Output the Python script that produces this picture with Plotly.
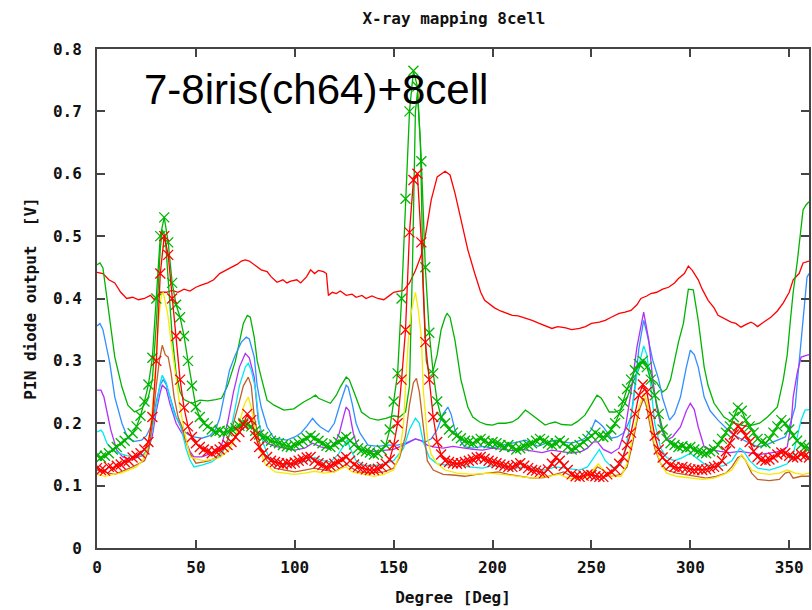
import plotly.graph_objects as go

# ---- thin-line scans: (degree, PIN voltage) pairs ----
red_deg = [0, 3, 6, 9, 12, 15, 18, 21, 24, 27, 29, 32, 35, 38, 41, 44, 47, 50, 53, 56, 59, 62, 65, 68, 71, 73, 75, 77, 79, 81, 83, 86, 88, 91, 94, 96, 98, 101, 103, 106, 108, 110, 112, 114.5, 116, 117, 119, 121, 123, 126, 129, 131, 134, 136, 139, 142, 145, 148, 150, 153, 155, 158, 161, 164, 166, 169, 172, 176, 178.5, 181, 184, 187.5, 191, 194, 196, 199, 201, 204, 207.5, 210, 213, 216.6, 220, 223.6, 227, 230, 233, 237, 240, 244, 247, 250, 254, 257, 260, 264, 267, 270, 273, 275, 278, 280, 283, 286, 289, 292, 294, 297, 299, 301, 304, 306, 309, 312, 314, 317, 320.6, 323, 325.6, 328, 330.6, 332, 334, 337, 340.7, 344, 347, 350, 352, 355, 357, 360]
red_val = [0.442, 0.44, 0.43, 0.425, 0.41, 0.40, 0.402, 0.398, 0.40, 0.405, 0.398, 0.41, 0.41, 0.413, 0.41, 0.415, 0.412, 0.418, 0.422, 0.425, 0.43, 0.44, 0.445, 0.45, 0.455, 0.46, 0.462, 0.46, 0.455, 0.45, 0.446, 0.443, 0.435, 0.426, 0.43, 0.425, 0.428, 0.43, 0.425, 0.435, 0.446, 0.44, 0.445, 0.443, 0.44, 0.405, 0.41, 0.408, 0.412, 0.405, 0.407, 0.402, 0.405, 0.40, 0.404, 0.40, 0.398, 0.405, 0.41, 0.412, 0.413, 0.425, 0.445, 0.47, 0.50, 0.558, 0.595, 0.604, 0.598, 0.569, 0.526, 0.478, 0.44, 0.41, 0.397, 0.39, 0.385, 0.38, 0.376, 0.373, 0.372, 0.369, 0.365, 0.36, 0.356, 0.352, 0.355, 0.353, 0.35, 0.352, 0.355, 0.36, 0.362, 0.365, 0.37, 0.376, 0.378, 0.381, 0.39, 0.40, 0.404, 0.408, 0.41, 0.415, 0.418, 0.425, 0.432, 0.44, 0.452, 0.445, 0.43, 0.415, 0.397, 0.385, 0.373, 0.368, 0.362, 0.36, 0.354, 0.358, 0.362, 0.36, 0.355, 0.362, 0.37, 0.38, 0.393, 0.41, 0.43, 0.44, 0.457, 0.46]

green_deg = [0, 1.5, 3, 5.5, 9, 12.6, 15.6, 19, 22.6, 25.6, 28, 30, 32, 33, 34.5, 36, 38, 40, 42, 44, 48, 52, 56, 60, 63, 66, 70, 72, 74, 76, 77.5, 79.5, 81, 83, 86, 89.5, 94.5, 99.5, 104.5, 108, 110.5, 112, 114.6, 118, 121, 123, 126, 127.5, 129.6, 133.7, 138, 142, 146, 150, 153, 156, 158, 159.5, 161, 162, 163.5, 165, 166.5, 168, 170, 172, 174, 176, 177, 178.5, 181, 184, 187.5, 190, 193.5, 197, 200, 203, 206.5, 210, 213, 216.6, 218, 220, 223, 226.6, 229, 231.7, 235, 240, 243, 246.7, 250, 252.8, 255, 256.8, 259, 262, 265, 267, 270, 273, 275, 277, 279, 281, 283, 286, 288, 290, 292, 294, 296.5, 299, 301.5, 304, 307, 309, 312, 317, 321, 325.6, 329, 332, 335, 339, 344, 347, 349, 350.6, 352, 354, 356, 357, 358.5, 360]
green_val = [0.454, 0.457, 0.449, 0.386, 0.306, 0.258, 0.229, 0.218, 0.224, 0.237, 0.27, 0.36, 0.48, 0.51, 0.50, 0.43, 0.34, 0.28, 0.25, 0.238, 0.232, 0.237, 0.236, 0.238, 0.24, 0.26, 0.30, 0.33, 0.36, 0.373, 0.37, 0.338, 0.30, 0.274, 0.237, 0.229, 0.221, 0.223, 0.234, 0.24, 0.245, 0.24, 0.237, 0.232, 0.245, 0.258, 0.274, 0.27, 0.253, 0.218, 0.208, 0.205, 0.208, 0.212, 0.21, 0.218, 0.26, 0.45, 0.70, 0.73, 0.65, 0.42, 0.30, 0.28, 0.285, 0.31, 0.35, 0.37, 0.376, 0.37, 0.333, 0.27, 0.226, 0.21, 0.202, 0.198, 0.197, 0.2, 0.2, 0.202, 0.208, 0.221, 0.218, 0.213, 0.205, 0.197, 0.2, 0.202, 0.198, 0.197, 0.203, 0.213, 0.23, 0.245, 0.24, 0.229, 0.218, 0.218, 0.222, 0.232, 0.258, 0.28, 0.295, 0.30, 0.29, 0.27, 0.265, 0.25, 0.255, 0.27, 0.30, 0.33, 0.36, 0.415, 0.414, 0.365, 0.29, 0.26, 0.232, 0.21, 0.202, 0.197, 0.195, 0.197, 0.2, 0.21, 0.226, 0.27, 0.31, 0.365, 0.41, 0.457, 0.51, 0.542, 0.55, 0.555]

blue_deg = [0, 1.5, 3, 6.5, 9, 12.6, 15.6, 19, 22.6, 25, 28, 30, 32, 33.5, 35, 37, 40, 43, 46, 49, 53, 57, 60, 62, 65, 67, 70, 73, 75.5, 77, 79.5, 81, 83, 86, 89.5, 93, 96, 100, 103, 106, 109, 111, 113, 117, 120, 123, 126, 127, 129, 131, 133, 137, 142, 147, 152, 156, 159, 161, 163, 166, 169, 172, 175, 177.4, 179, 181, 184, 186, 190, 195, 200, 205, 210, 213, 216.6, 220, 223, 227, 231.7, 235, 240, 244, 246.7, 250, 252, 254, 256, 258, 260, 263, 266, 268, 270, 272, 274, 276.4, 278, 281, 284, 286, 289.5, 292, 295, 298, 300, 302, 304, 307, 310, 314, 317, 320.7, 325, 330, 334, 338, 342, 346, 348, 350.6, 353, 354.5, 356, 357.5, 359, 360]
blue_val = [0.356, 0.36, 0.35, 0.296, 0.242, 0.20, 0.176, 0.171, 0.173, 0.18, 0.2, 0.235, 0.262, 0.27, 0.262, 0.24, 0.21, 0.19, 0.182, 0.178, 0.176, 0.18, 0.19, 0.208, 0.258, 0.285, 0.31, 0.33, 0.338, 0.335, 0.306, 0.26, 0.226, 0.194, 0.176, 0.174, 0.173, 0.178, 0.184, 0.195, 0.208, 0.2, 0.194, 0.186, 0.2, 0.232, 0.261, 0.258, 0.232, 0.2, 0.184, 0.165, 0.163, 0.165, 0.165, 0.168, 0.172, 0.175, 0.173, 0.17, 0.175, 0.19, 0.215, 0.226, 0.215, 0.189, 0.17, 0.162, 0.16, 0.163, 0.16, 0.165, 0.168, 0.17, 0.173, 0.168, 0.163, 0.168, 0.173, 0.17, 0.168, 0.172, 0.176, 0.19, 0.205, 0.2, 0.194, 0.185, 0.176, 0.178, 0.184, 0.195, 0.21, 0.26, 0.32, 0.365, 0.345, 0.301, 0.27, 0.24, 0.205, 0.215, 0.242, 0.29, 0.317, 0.31, 0.29, 0.242, 0.22, 0.205, 0.195, 0.184, 0.176, 0.168, 0.162, 0.165, 0.17, 0.175, 0.178, 0.2, 0.226, 0.28, 0.333, 0.386, 0.434, 0.44]

purple_deg = [0, 2, 3.5, 7, 10, 13, 16, 19, 23, 26, 28, 30, 32, 33, 35, 37, 40, 44, 47, 49, 53, 58, 63, 66, 69, 72, 75, 77, 79.5, 81.5, 84, 86, 90, 95, 100, 105, 109, 113, 117, 120, 122.5, 125, 126, 127.5, 129.6, 132, 135, 140, 145, 150, 155, 159, 161, 164, 167, 170, 175, 180, 185, 190, 195, 200, 205, 210, 215, 220, 225, 230, 235, 240, 245, 248, 251, 253, 256, 260, 264, 267, 270, 273, 276.4, 279, 281, 283, 285.5, 288, 291, 295, 298, 300, 302, 304, 307, 310, 315, 320, 325, 330, 335, 340, 345, 349, 351, 352, 354, 356, 358, 360]
purple_val = [0.253, 0.253, 0.242, 0.189, 0.157, 0.146, 0.143, 0.144, 0.148, 0.158, 0.18, 0.22, 0.25, 0.261, 0.255, 0.23, 0.2, 0.178, 0.155, 0.146, 0.146, 0.152, 0.165, 0.2, 0.25, 0.29, 0.312, 0.305, 0.274, 0.205, 0.175, 0.168, 0.163, 0.16, 0.157, 0.16, 0.168, 0.162, 0.16, 0.165, 0.184, 0.215, 0.226, 0.22, 0.184, 0.16, 0.157, 0.155, 0.157, 0.158, 0.165, 0.172, 0.175, 0.172, 0.165, 0.162, 0.16, 0.163, 0.16, 0.158, 0.157, 0.16, 0.158, 0.156, 0.158, 0.155, 0.153, 0.157, 0.155, 0.152, 0.155, 0.16, 0.17, 0.17, 0.158, 0.152, 0.16, 0.19, 0.25, 0.322, 0.378, 0.333, 0.27, 0.226, 0.19, 0.173, 0.178, 0.194, 0.22, 0.232, 0.222, 0.194, 0.162, 0.158, 0.155, 0.153, 0.155, 0.152, 0.15, 0.152, 0.155, 0.162, 0.2, 0.242, 0.28, 0.306, 0.308, 0.31]

cyan_deg = [0, 2, 3, 5, 8, 11, 15, 19, 23, 26, 28, 30, 32, 33, 35, 37, 39, 42, 45, 47, 49, 53, 58, 63, 66, 69, 72, 75, 76.5, 78, 80, 82, 84, 87, 91, 96, 101, 106, 110, 114, 118, 122, 125, 126.5, 128, 131, 135, 140, 145, 150, 155, 158, 161, 163, 165, 168, 172, 177, 182, 188, 195, 200, 205, 210, 215, 220, 226, 232, 238, 244, 248, 252, 254, 257, 261, 265, 268, 271, 273, 276.4, 278, 280, 282, 285, 288, 292, 296, 300, 303, 307, 312, 317, 321, 325, 327, 330, 334, 340, 345, 349, 352, 354, 356, 358, 360]
cyan_val = [0.186, 0.189, 0.185, 0.168, 0.157, 0.152, 0.148, 0.146, 0.148, 0.16, 0.19, 0.23, 0.265, 0.277, 0.265, 0.24, 0.215, 0.2, 0.16, 0.141, 0.13, 0.133, 0.138, 0.15, 0.17, 0.21, 0.26, 0.29, 0.296, 0.285, 0.258, 0.2, 0.168, 0.145, 0.136, 0.133, 0.135, 0.14, 0.145, 0.14, 0.138, 0.15, 0.165, 0.173, 0.16, 0.14, 0.133, 0.132, 0.135, 0.14, 0.16, 0.19, 0.208, 0.2, 0.17, 0.145, 0.135, 0.133, 0.135, 0.13, 0.128, 0.132, 0.13, 0.127, 0.13, 0.128, 0.125, 0.13, 0.127, 0.125, 0.13, 0.15, 0.158, 0.14, 0.128, 0.135, 0.17, 0.23, 0.28, 0.324, 0.31, 0.26, 0.2, 0.16, 0.145, 0.14, 0.145, 0.152, 0.145, 0.135, 0.13, 0.132, 0.14, 0.16, 0.155, 0.14, 0.128, 0.125, 0.13, 0.135, 0.15, 0.18, 0.205, 0.221, 0.222]

brown_deg = [0, 3, 6, 9, 12, 15, 18, 21, 24, 26, 28, 30, 31.5, 33, 34.5, 36, 37.5, 39, 41, 43, 45, 47, 50, 54, 57, 60, 63, 66, 69, 72, 74, 76.5, 78, 79.5, 81, 83, 86, 90, 95, 100, 105, 110, 115, 120, 124, 126, 128, 132, 138, 145, 150, 153, 156, 158, 160, 161.5, 163, 165, 167, 170, 175, 180, 186, 192, 198, 203, 208, 214, 220, 226, 232, 236, 240, 245, 250, 253, 256, 260, 265, 268, 271, 274, 276.4, 278, 280, 282, 285, 288, 293, 298, 303, 308, 313, 318, 321, 324, 326, 328, 331, 334, 340, 345, 348, 350, 352, 356, 360]
brown_val = [0.125, 0.122, 0.12, 0.118, 0.122, 0.125, 0.13, 0.135, 0.14, 0.155, 0.2, 0.26, 0.3, 0.325, 0.31, 0.306, 0.28, 0.242, 0.21, 0.194, 0.17, 0.152, 0.136, 0.138, 0.14, 0.145, 0.155, 0.173, 0.2, 0.235, 0.26, 0.274, 0.26, 0.21, 0.185, 0.157, 0.14, 0.128, 0.125, 0.122, 0.125, 0.128, 0.125, 0.122, 0.13, 0.135, 0.13, 0.122, 0.12, 0.122, 0.128, 0.145, 0.18, 0.23, 0.265, 0.272, 0.25, 0.19, 0.14, 0.125, 0.118, 0.117, 0.115, 0.118, 0.12, 0.122, 0.118, 0.115, 0.112, 0.113, 0.118, 0.122, 0.115, 0.112, 0.118, 0.13, 0.125, 0.115, 0.118, 0.13, 0.17, 0.22, 0.24, 0.225, 0.19, 0.16, 0.135, 0.125, 0.12, 0.118, 0.115, 0.112, 0.115, 0.12, 0.13, 0.145, 0.148, 0.14, 0.12, 0.11, 0.108, 0.11, 0.12, 0.122, 0.112, 0.115, 0.115]

yellow_deg = [0, 4, 8, 12, 16, 20, 23, 25, 27, 29, 31, 32.5, 33.5, 35, 35.7, 37.5, 39, 42, 44, 47, 50, 54, 58, 62, 66, 69, 72, 74.5, 76.5, 78, 80, 82, 85, 90, 95, 100, 105, 110, 115, 120, 124, 126, 129, 135, 140, 145, 150, 153, 155, 156, 157.5, 159, 161, 162.5, 164, 165, 167, 169, 172, 176, 182, 190, 198, 205, 212, 220, 228, 234, 238, 244, 248, 251, 253.5, 256, 260, 265, 268, 271, 274, 276.4, 278, 280, 282, 285, 288, 293, 300, 306, 312, 317, 321, 324, 326, 328, 331, 335, 340, 345, 349, 353, 357, 360]
yellow_val = [0.118, 0.115, 0.118, 0.12, 0.125, 0.13, 0.14, 0.155, 0.19, 0.26, 0.36, 0.405, 0.41, 0.39, 0.376, 0.33, 0.296, 0.226, 0.19, 0.146, 0.143, 0.14, 0.142, 0.145, 0.155, 0.17, 0.2, 0.23, 0.242, 0.225, 0.19, 0.16, 0.135, 0.122, 0.12, 0.118, 0.12, 0.123, 0.12, 0.122, 0.128, 0.13, 0.122, 0.118, 0.115, 0.118, 0.125, 0.15, 0.2, 0.26, 0.338, 0.38, 0.41, 0.38, 0.338, 0.253, 0.178, 0.15, 0.135, 0.125, 0.12, 0.118, 0.12, 0.118, 0.115, 0.112, 0.115, 0.118, 0.112, 0.11, 0.115, 0.125, 0.135, 0.125, 0.115, 0.115, 0.135, 0.18, 0.225, 0.248, 0.235, 0.2, 0.165, 0.135, 0.12, 0.115, 0.112, 0.11, 0.112, 0.118, 0.125, 0.14, 0.15, 0.14, 0.125, 0.12, 0.118, 0.12, 0.125, 0.12, 0.118, 0.12]

# ---- point scans (every 2 degrees, 0..360) ----
scan_deg = list(range(0, 361, 2))
green_pts = [0.148, 0.145, 0.148, 0.152, 0.158, 0.162, 0.168, 0.172, 0.178, 0.184,
             0.195, 0.212, 0.235, 0.262, 0.305, 0.40, 0.50, 0.53, 0.49, 0.425,
             0.39, 0.37, 0.34, 0.30, 0.26, 0.226, 0.21, 0.2, 0.195, 0.19,
             0.186, 0.188, 0.185, 0.187, 0.19, 0.192, 0.196, 0.2, 0.198, 0.195,
             0.188, 0.182, 0.178, 0.176, 0.172, 0.17, 0.168, 0.165, 0.163, 0.162,
             0.165, 0.168, 0.172, 0.176, 0.18, 0.176, 0.172, 0.168, 0.164, 0.162,
             0.166, 0.17, 0.174, 0.178, 0.172, 0.166, 0.16, 0.157, 0.155, 0.153,
             0.15, 0.152, 0.157, 0.165, 0.19, 0.235, 0.28, 0.40, 0.56, 0.70,
             0.765, 0.74, 0.62, 0.45, 0.345, 0.28, 0.235, 0.21, 0.2, 0.19,
             0.185, 0.18, 0.176, 0.172, 0.17, 0.168, 0.172, 0.175, 0.172, 0.168,
             0.17, 0.168, 0.165, 0.162, 0.165, 0.162, 0.158, 0.16, 0.163, 0.165,
             0.168, 0.172, 0.175, 0.172, 0.168, 0.165, 0.168, 0.172, 0.168, 0.162,
             0.158, 0.16, 0.165, 0.17, 0.175, 0.18, 0.185, 0.18, 0.178, 0.18,
             0.19, 0.2, 0.215, 0.235, 0.255, 0.27, 0.285, 0.295, 0.30, 0.29,
             0.27, 0.245, 0.215, 0.19, 0.175, 0.168, 0.165, 0.162, 0.163, 0.16,
             0.162, 0.158, 0.155, 0.153, 0.152, 0.155, 0.158, 0.165, 0.175, 0.185,
             0.195, 0.21, 0.225, 0.22, 0.205, 0.195, 0.185, 0.175, 0.17, 0.168,
             0.175, 0.185, 0.195, 0.205, 0.2, 0.19, 0.18, 0.172, 0.165, 0.162,
             0.16]
red_pts = [0.128, 0.125, 0.124, 0.13, 0.128, 0.132, 0.134, 0.138, 0.14, 0.145,
           0.148, 0.152, 0.158, 0.17, 0.21, 0.30, 0.44, 0.50, 0.47, 0.40,
           0.34, 0.27, 0.225, 0.195, 0.178, 0.168, 0.162, 0.158, 0.155, 0.152,
           0.155, 0.158, 0.162, 0.165, 0.17, 0.178, 0.186, 0.198, 0.215, 0.205,
           0.18, 0.162, 0.152, 0.146, 0.14, 0.138, 0.136, 0.134, 0.136, 0.135,
           0.137, 0.14, 0.142, 0.145, 0.146, 0.14, 0.136, 0.133, 0.13, 0.132,
           0.135, 0.138, 0.142, 0.146, 0.14, 0.134, 0.13, 0.128, 0.126, 0.125,
           0.125, 0.127, 0.13, 0.135, 0.142, 0.165, 0.2, 0.27, 0.35, 0.506,
           0.59, 0.60, 0.49, 0.33, 0.27, 0.21, 0.17, 0.15, 0.14, 0.138,
           0.136, 0.135, 0.136, 0.138, 0.14, 0.142, 0.145, 0.146, 0.143, 0.14,
           0.138, 0.136, 0.134, 0.132, 0.13, 0.13, 0.133, 0.136, 0.132, 0.128,
           0.125, 0.124, 0.122, 0.12, 0.126, 0.135, 0.145, 0.14, 0.132, 0.125,
           0.118, 0.115, 0.114, 0.116, 0.118, 0.117, 0.115, 0.114, 0.114, 0.118,
           0.122, 0.126, 0.135, 0.146, 0.165, 0.185, 0.215, 0.245, 0.262, 0.25,
           0.215, 0.18, 0.158, 0.145, 0.138, 0.133, 0.13, 0.128, 0.13, 0.128,
           0.126, 0.125, 0.126, 0.125, 0.126, 0.128, 0.13, 0.132, 0.14, 0.155,
           0.168, 0.182, 0.195, 0.19, 0.18, 0.17, 0.155, 0.146, 0.142, 0.14,
           0.142, 0.145, 0.15, 0.153, 0.152, 0.148, 0.145, 0.146, 0.15, 0.148,
           0.145]

x_ticks = [0, 50, 100, 150, 200, 250, 300, 350]
y_ticks = [0, 0.1, 0.2, 0.3, 0.4, 0.5, 0.6, 0.7, 0.8]

mono = dict(family="DejaVu Sans Mono", size=16, color="#111", weight="bold")

fig = go.Figure()

line_series = [
    (red_deg, red_val, "#ff0000"),
    (green_deg, green_val, "#00b400"),
    (blue_deg, blue_val, "#3090ff"),
    (purple_deg, purple_val, "#b030f8"),
    (cyan_deg, cyan_val, "#00e8f0"),
    (brown_deg, brown_val, "#c0602a"),
    (yellow_deg, yellow_val, "#f6ea00"),
]
for xs, ys, col in line_series:
    fig.add_trace(go.Scatter(x=xs, y=ys, mode="lines",
                             line=dict(color=col, width=1.3),
                             showlegend=False, hoverinfo="skip"))

for ys, col in [(green_pts, "#00b400"), (red_pts, "#ff0000")]:
    fig.add_trace(go.Scatter(x=scan_deg, y=ys, mode="lines+markers",
                             line=dict(color=col, width=1.3),
                             marker=dict(symbol="x-thin-open", size=10,
                                         line=dict(color=col, width=1.3)),
                             showlegend=False, hoverinfo="skip"))

axis_common = dict(showline=True, linecolor="#444", linewidth=2, mirror="ticks",
                   ticks="inside", ticklen=8, tickcolor="#444", tickwidth=1.5,
                   showgrid=False, zeroline=False, tickfont=mono)

fig.update_xaxes(range=[0, 360], tickvals=x_ticks, ticktext=[str(v) for v in x_ticks],
                 ticklabelstandoff=4,
                 title=dict(text="Degree [Deg]", font=mono, standoff=16),
                 **axis_common)
fig.update_yaxes(range=[0, 0.8], tickvals=y_ticks,
                 ticktext=["0" if v == 0 else f"{v:.1f}" for v in y_ticks],
                 ticklabelstandoff=10,
                 title=dict(text="PIN diode output  [V]", font=mono, standoff=12),
                 **axis_common)

fig.update_layout(
    width=812, height=610,
    margin=dict(l=97, r=1, t=49, b=62),
    paper_bgcolor="white", plot_bgcolor="white",
    title=dict(text="X-ray mapping 8cell", font=mono, x=0.559, xanchor="center",
               y=0.97, yanchor="middle"),
    annotations=[dict(text="7-8iris(ch64)+8cell", x=0.0636, y=0.735, xref="paper",
                      yref="y", xanchor="left", yanchor="middle", showarrow=False,
                      font=dict(family="Liberation Sans", size=42, color="black"))],
)

fig.write_html("out.html")
